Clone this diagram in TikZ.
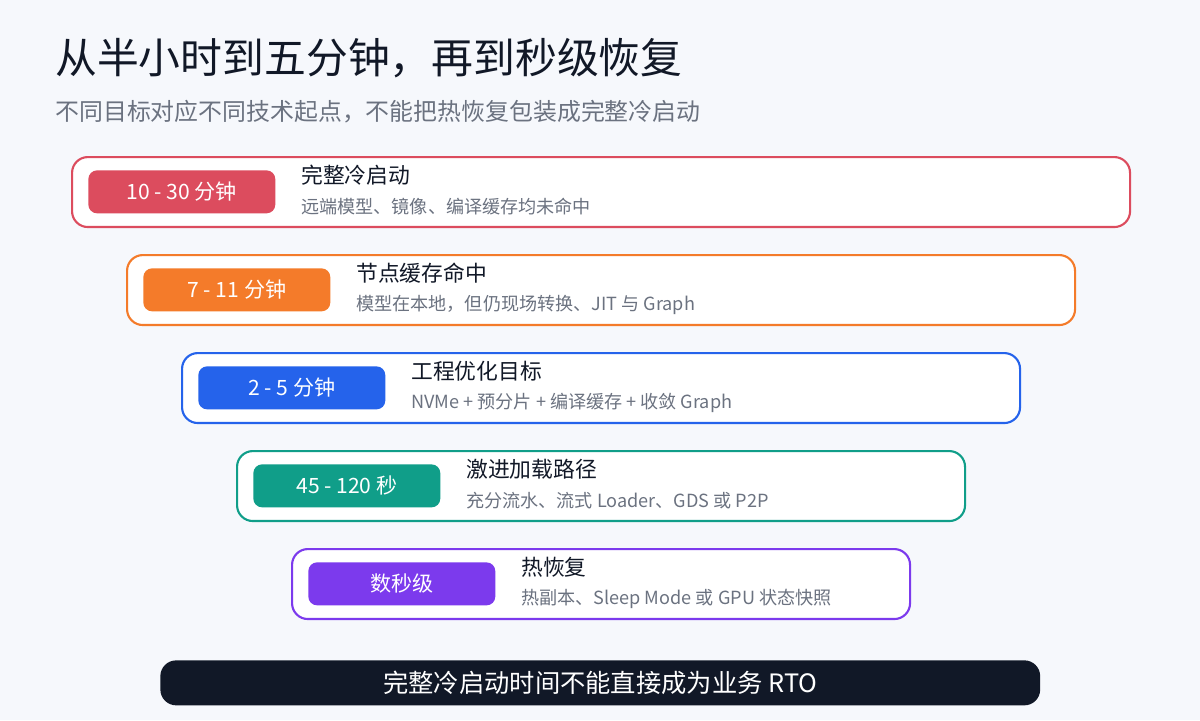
\documentclass[tikz,border=0pt]{standalone}
\usepackage{fontspec}
\setmainfont{Noto Sans CJK SC}
\usetikzlibrary{positioning}
\definecolor{bg}{HTML}{F6F8FC}
\definecolor{ink}{HTML}{111827}
\definecolor{muted}{HTML}{6B7280}
\definecolor{cRed}{HTML}{DC4C5E}
\definecolor{cOrange}{HTML}{F47B2A}
\definecolor{cBlue}{HTML}{2563EB}
\definecolor{cTeal}{HTML}{109E89}
\definecolor{cPurple}{HTML}{7C3AED}
\tikzset{
  tier/.style={draw=#1, line width=1.2pt, fill=white, rounded corners=9pt, minimum width=21.16cm, minimum height=1.4cm, anchor=north west},
  badge/.style={fill=#1, rounded corners=5pt, minimum width=3.74cm, minimum height=0.86cm, text=white, font=\fontsize{12}{14}\selectfont, anchor=north west},
  head/.style={anchor=west, text=ink, font=\fontsize{12.4}{14}\selectfont, inner sep=0pt},
  note/.style={anchor=west, text=muted, font=\fontsize{10.3}{12}\selectfont, inner sep=0pt}
}
\begin{document}
\begin{tikzpicture}[x=0.02cm, y=-0.02cm]
\fill[bg] (0,0) rectangle (1200,720);

% Title
\node[anchor=west, inner sep=0pt, text=ink, font=\fontsize{23.8}{27}\selectfont] (title) at (55,58) {从半小时到五分钟，再到秒级恢复};
\node[anchor=west, inner sep=0pt, text=muted, font=\fontsize{13.6}{16}\selectfont] (subtitle) at (55,112) {不同目标对应不同技术起点，不能把热恢复包装成完整冷启动};

% Tiers
\foreach \i/\c/\t/\h/\n in {
  0/cRed/{10 - 30 分钟}/完整冷启动/远端模型、镜像、编译缓存均未命中,
  1/cOrange/{7 - 11 分钟}/节点缓存命中/{模型在本地，但仍现场转换、JIT 与 Graph},
  2/cBlue/{2 - 5 分钟}/工程优化目标/{NVMe + 预分片 + 编译缓存 + 收敛 Graph},
  3/cTeal/{45 - 120 秒}/激进加载路径/{充分流水、流式 Loader、GDS 或 P2P},
  4/cPurple/数秒级/热恢复/{热副本、Sleep Mode 或 GPU 状态快照}}{
  \node[tier=\c, minimum width={(1058-110*\i)*0.02cm}] (tier\i) at (71+55*\i,156+98*\i) {};
  \node[badge=\c] (badge\i) at (88+55*\i,170+98*\i) {\t};
  \node[head] (head\i) at (301+55*\i,175+98*\i) {\h};
  \node[note] (note\i) at (301+55*\i,207+98*\i) {\n};
}

% Bottom bar
\node[fill=ink, rounded corners=9pt, minimum width=17.6cm, minimum height=0.9cm, text=white, font=\fontsize{14.4}{17}\selectfont, anchor=north west] (verdict) at (160,660) {完整冷启动时间不能直接成为业务 RTO};
\end{tikzpicture}
\end{document}
